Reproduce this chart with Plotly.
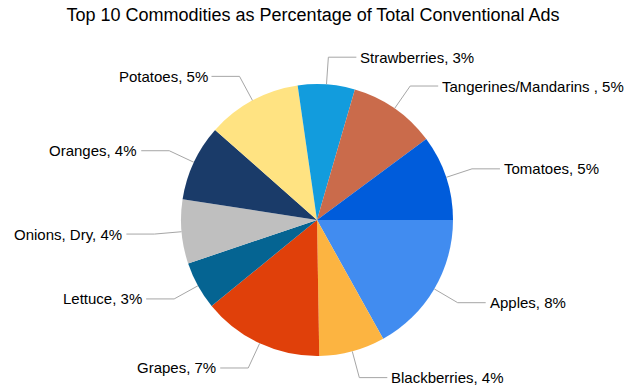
import math
import plotly.graph_objects as go

# ---- data ----
labels = ["Apples", "Blackberries", "Grapes", "Lettuce", "Onions, Dry", "Oranges",
          "Potatoes", "Strawberries", "Tangerines/Mandarins ", "Tomatoes"]
values = [8.0, 3.7, 6.8, 2.7, 3.6, 4.3, 5.3, 3.2, 4.9, 4.8]
colors = ["#418CF0", "#FCB441", "#E0400A", "#056492", "#BFBFBF",
          "#1A3B69", "#FFE382", "#129CDD", "#CA6B4B", "#005CDB"]
title = "Top 10 Commodities as Percentage of Total Conventional Ads"

# ---- layout geometry (pixels) ----
W, H = 626, 391
CX, CY, R = 317, 220, 136
FONT = "Liberation Sans, Arial, sans-serif"


def px(x):
    return x / W


def py(y):
    return 1 - y / H


fig = go.Figure(go.Pie(
    labels=labels, values=values, sort=False, direction="clockwise",
    rotation=90, textinfo="none", hoverinfo="label+percent",
    marker=dict(colors=colors, line=dict(width=0)),
    domain=dict(x=[px(CX - R), px(CX + R)], y=[py(CY + R), py(CY - R)]),
    showlegend=False,
))

# leader lines and labels, placed from each slice's mid angle
total = sum(values)
shapes, annotations = [], []
cum = 0.0
for lab, v in zip(labels, values):
    mid = (cum + v / 2) / total * 2 * math.pi  # clockwise from 3 o'clock
    cum += v
    dx, dy = math.cos(mid), math.sin(mid)
    x0, y0 = CX + R * dx, CY + R * dy
    x1, y1 = CX + 1.2 * R * dx, CY + 1.2 * R * dy
    side = 1 if dx >= 0 else -1
    x2 = x1 + side * 28
    path = f"M {px(x0)} {py(y0)} L {px(x1)} {py(y1)} L {px(x2)} {py(y1)}"
    shapes.append(dict(type="path", xref="paper", yref="paper", path=path,
                       line=dict(color="#A6A6A6", width=1)))
    annotations.append(dict(
        x=px(x2 + side * 2), y=py(y1), xref="paper", yref="paper",
        text=f"{lab}, {round(v)}%", showarrow=False,
        xanchor="left" if side > 0 else "right", yanchor="middle",
        font=dict(family=FONT, size=15, color="#000000")))

fig.update_layout(
    width=W, height=H, autosize=False,
    margin=dict(l=0, r=0, t=0, b=0),
    paper_bgcolor="white", plot_bgcolor="white",
    title=dict(text=title, x=0.5, xanchor="center", y=py(15), yanchor="middle",
               font=dict(family=FONT, size=18, color="#000000")),
    shapes=shapes, annotations=annotations,
)

fig.write_html("out.html", config={"displayModeBar": False},
               post_script="document.body.style.margin='0';document.body.style.overflow='hidden';")
